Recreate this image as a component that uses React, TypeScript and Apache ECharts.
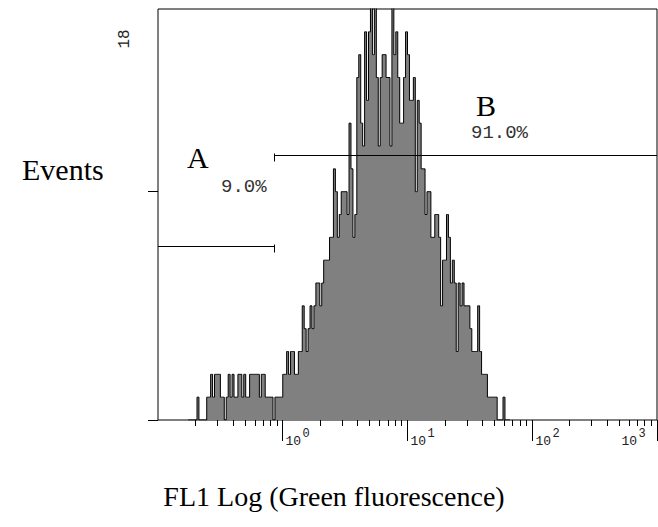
import React, { useEffect, useRef } from "react";
import * as echarts from "echarts";

// ---- data ----
const CHANNEL_COUNT = 256; // channels across the 4 log decades
const FIRST_CHANNEL = 15; // channel index of COUNTS[0]
const COUNTS = [
  0, 0, 0, 0, 0, 1, 0, 0, 0, 0, // 15-24
  1, 1, 2, 1, 2, 2, 2, 1, 1, 0, // 25-34
  1, 2, 1, 2, 1, 1, 2, 2, 1, 2, // 35-44
  1, 1, 2, 2, 2, 2, 2, 1, 2, 2, // 45-54
  1, 1, 1, 1, 0, 1, 1, 1, 1, 2, // 55-64
  2, 3, 2, 3, 3, 2, 2, 3, 3, 5, // 65-74
  4, 3, 4, 5, 4, 5, 6, 6, 5, 6, // 75-84
  7, 7, 7, 8, 8, 11, 10, 8, 9, 10, // 85-94
  10, 10, 9, 13, 11, 8, 9, 15, 16, 13, // 95-104
  12, 17, 14, 17, 20, 16, 20, 15, 12, 15, // 105-114
  16, 16, 15, 15, 12, 20, 16, 17, 15, 13, // 115-124
  13, 15, 17, 16, 14, 14, 15, 10, 14, 13, // 125-134
  11, 11, 9, 10, 10, 8, 8, 9, 9, 8, // 135-144
  5, 7, 7, 9, 8, 6, 7, 6, 3, 6, // 145-154
  5, 6, 5, 5, 5, 4, 3, 3, 3, 5, // 155-164
  3, 2, 2, 2, 1, 1, 1, 1, 1, 0, // 165-174
  0, 0, 1, 0, 0, 0, // 175-180
];
const Y_MAX = 18;
const Y_TICKS = [0, 10];
const X_MIN = 0.1;
const X_MAX = 1000;
const MAJOR_TICKS = [1, 10, 100, 1000];
const MAJOR_EXPONENTS = ["0", "1", "2", "3"];
const MINOR_TICKS = [
  0.2, 0.3, 0.4, 0.5, 0.6, 0.7, 0.8, 0.9,
  2, 3, 4, 5, 6, 7, 8, 9,
  20, 30, 40, 50, 60, 70, 80, 90,
  200, 300, 400, 500, 600, 700, 800, 900,
];
const GATE_NAMES = ["A", "B"];
const GATE_FROM = [0.1, 0.86];
const GATE_TO = [0.86, 1000];
const GATE_PERCENT = ["9.0%", "91.0%"];
const X_TITLE = "FL1 Log (Green fluorescence)";
const Y_TITLE = "Events";

// ---- layout (not data) ----
const GATE_LEVEL = [7.62, 11.6]; // gate bar heights, in count units
const GATE_TICK_SIDE = ["right", "left"];
const GATE_NAME_POS = [
  [187, 157],
  [476, 105],
];
const GATE_PCT_POS = [
  [221, 186.5],
  [471, 132.5],
];

const SERIF = '"Liberation Serif", "Times New Roman", serif';
const MONO = '"Liberation Mono", "Courier New", monospace';

const crisp = (v: number) => Math.round(v - 0.5) + 0.5;

export default function App() {
  const ref = useRef<HTMLDivElement>(null);

  useEffect(() => {
    if (!ref.current) return;
    const chart = echarts.init(ref.current, undefined, { renderer: "svg" });

    const histData = COUNTS.map((c, k) => [FIRST_CHANNEL + k + 0.5, c]);

    const option: any = {
      animation: false,
      backgroundColor: "#ffffff",
      grid: {
        left: 158,
        top: 9,
        width: 499,
        height: 411,
        show: true,
        borderColor: "#000",
        borderWidth: 1,
        backgroundColor: "transparent",
        containLabel: false,
      },
      xAxis: [
        { type: "value", min: 0, max: CHANNEL_COUNT, show: false },
        { type: "log", logBase: 10, min: X_MIN, max: X_MAX, show: false },
      ],
      yAxis: [{ type: "value", min: 0, max: Y_MAX, show: false }],
      series: [
        {
          type: "line",
          xAxisIndex: 0,
          yAxisIndex: 0,
          data: histData,
          step: "middle",
          symbol: "none",
          showSymbol: false,
          lineStyle: { color: "#000", width: 1 },
          areaStyle: { color: "#808080", opacity: 1 },
          z: 2,
          silent: true,
        },
        // minor x ticks
        {
          type: "custom",
          xAxisIndex: 1,
          yAxisIndex: 0,
          clip: false,
          silent: true,
          z: 5,
          data: MINOR_TICKS.map((v) => [v, 0]),
          renderItem: (_p: any, api: any) => {
            const pt = api.coord([api.value(0), 0]);
            const x = crisp(pt[0]);
            return {
              type: "line",
              shape: { x1: x, y1: pt[1], x2: x, y2: pt[1] + 6 },
              style: { stroke: "#000", lineWidth: 1 },
            };
          },
        },
        // major x ticks + labels
        {
          type: "custom",
          xAxisIndex: 1,
          yAxisIndex: 0,
          clip: false,
          silent: true,
          z: 5,
          data: MAJOR_TICKS.map((v, i) => [v, 0, i]),
          renderItem: (_p: any, api: any) => {
            const idx = api.value(2);
            const pt = api.coord([api.value(0), 0]);
            const x = crisp(pt[0]);
            const y = pt[1];
            const last = idx === MAJOR_TICKS.length - 1;
            const baseX = last ? x - 36 : x + 3;
            return {
              type: "group",
              children: [
                {
                  type: "line",
                  shape: { x1: x, y1: y, x2: x, y2: y + 21 },
                  style: { stroke: "#000", lineWidth: 1 },
                },
                {
                  type: "text",
                  x: baseX,
                  y: y + 21,
                  style: {
                    text: "10",
                    font: `13px ${MONO}`,
                    fill: "#222",
                    align: "left",
                    verticalAlign: "middle",
                    textAlign: "left",
                    textVerticalAlign: "middle",
                  },
                },
                {
                  type: "text",
                  x: baseX + 17,
                  y: y + 14,
                  style: {
                    text: MAJOR_EXPONENTS[idx],
                    font: `12px ${MONO}`,
                    fill: "#222",
                    align: "left",
                    verticalAlign: "middle",
                    textAlign: "left",
                    textVerticalAlign: "middle",
                  },
                },
              ],
            };
          },
        },
        // y ticks
        {
          type: "custom",
          xAxisIndex: 1,
          yAxisIndex: 0,
          clip: false,
          silent: true,
          z: 5,
          data: Y_TICKS.map((v) => [X_MIN, v]),
          renderItem: (_p: any, api: any) => {
            const pt = api.coord([api.value(0), api.value(1)]);
            const y = crisp(pt[1]);
            return {
              type: "line",
              shape: { x1: pt[0] - 10, y1: y, x2: pt[0], y2: y },
              style: { stroke: "#000", lineWidth: 1 },
            };
          },
        },
        // gates
        {
          type: "custom",
          xAxisIndex: 1,
          yAxisIndex: 0,
          clip: false,
          silent: true,
          z: 6,
          data: GATE_NAMES.map((_n, i) => [GATE_FROM[i], GATE_TO[i], GATE_LEVEL[i], i]),
          renderItem: (_p: any, api: any) => {
            const i = api.value(3);
            const p0 = api.coord([api.value(0), api.value(2)]);
            const p1 = api.coord([api.value(1), api.value(2)]);
            const y = crisp(p0[1]);
            const tx = crisp(GATE_TICK_SIDE[i] === "right" ? p1[0] : p0[0]);
            return {
              type: "group",
              children: [
                {
                  type: "line",
                  shape: { x1: p0[0], y1: y, x2: p1[0], y2: y },
                  style: { stroke: "#000", lineWidth: 1 },
                },
                {
                  type: "line",
                  shape: { x1: tx, y1: y - 2, x2: tx, y2: y + 6 },
                  style: { stroke: "#000", lineWidth: 1 },
                },
              ],
            };
          },
        },
      ],
      graphic: [
        {
          type: "text",
          x: 22,
          y: 169,
          style: {
            text: Y_TITLE,
            font: `30px ${SERIF}`,
            fill: "#000",
            align: "left",
            verticalAlign: "middle",
            textAlign: "left",
            textVerticalAlign: "middle",
          },
        },
        {
          type: "text",
          x: 334,
          y: 496,
          style: {
            text: X_TITLE,
            font: `28px ${SERIF}`,
            fill: "#000",
            align: "center",
            verticalAlign: "middle",
            textAlign: "center",
            textVerticalAlign: "middle",
          },
        },
        {
          type: "text",
          x: 124.5,
          y: 39,
          rotation: Math.PI / 2,
          style: {
            text: String(Y_MAX),
            font: `16px ${MONO}`,
            fill: "#222",
            align: "center",
            verticalAlign: "middle",
            textAlign: "center",
            textVerticalAlign: "middle",
          },
        },
        ...GATE_NAMES.map((n, i) => ({
          type: "text",
          x: GATE_NAME_POS[i][0],
          y: GATE_NAME_POS[i][1],
          style: {
            text: n,
            font: `30px ${SERIF}`,
            fill: "#000",
            align: "left",
            verticalAlign: "middle",
            textAlign: "left",
            textVerticalAlign: "middle",
          },
        })),
        ...GATE_PERCENT.map((t, i) => ({
          type: "text",
          x: GATE_PCT_POS[i][0],
          y: GATE_PCT_POS[i][1],
          style: {
            text: t,
            font: `19px ${MONO}`,
            fill: "#333",
            align: "left",
            verticalAlign: "middle",
            textAlign: "left",
            textVerticalAlign: "middle",
          },
        })),
      ],
    };

    chart.setOption(option);
    return () => chart.dispose();
  }, []);

  return (
    <div
      ref={ref}
      style={{ position: "absolute", left: 0, top: 0, width: 658, height: 527, background: "#fff" }}
    />
  );
}
